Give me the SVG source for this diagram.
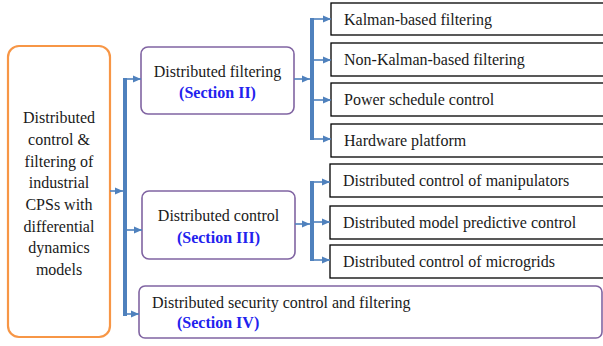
<svg xmlns="http://www.w3.org/2000/svg" width="603" height="346" viewBox="0 0 603 346">
<style>
text{font-family:"Liberation Serif","Times New Roman",serif;font-size:16px;fill:#1a1a1a}
.sec{font-weight:bold;fill:#2222EE}
.orange{fill:#fff;stroke:#F79646;stroke-width:2.2}
.purple{fill:#fff;stroke:#8064A2;stroke-width:1.6}
.leaf{fill:#fff;stroke:#000;stroke-width:1.3}
.bar{fill:#4F81BD}
.arr{stroke:#4F81BD;stroke-width:1.6;fill:none;marker-end:url(#ah)}
</style>
<defs>
<marker id="ah" markerUnits="userSpaceOnUse" markerWidth="9" markerHeight="8" refX="8" refY="4" orient="auto">
<path d="M0,0.5 L8,4 L0,7.5 Z" fill="#4F81BD"/>
</marker>
</defs>
<rect width="603" height="346" fill="#fff"/>
<g id="root">
<rect class="orange" x="8" y="46" width="102" height="291" rx="11"/>
<text text-anchor="middle"><tspan x="59" y="123">Distributed</tspan><tspan x="59" y="145">control &amp;</tspan><tspan x="59" y="167">filtering of</tspan><tspan x="59" y="188">industrial</tspan><tspan x="59" y="210">CPSs with</tspan><tspan x="59" y="232">differential</tspan><tspan x="59" y="253">dynamics</tspan><tspan x="59" y="275">models</tspan></text>
</g>
<g id="filtering">
<rect class="purple" x="141" y="47" width="153" height="67" rx="7"/>
<text x="217.5" y="77" text-anchor="middle">Distributed filtering</text>
<text class="sec" x="217.5" y="98" text-anchor="middle">(Section II)</text>
</g>
<g id="control">
<rect class="purple" x="142" y="191" width="153" height="68" rx="7"/>
<text x="218.5" y="221" text-anchor="middle">Distributed control</text>
<text class="sec" x="218.5" y="243" text-anchor="middle">(Section III)</text>
</g>
<g id="security">
<rect class="purple" x="139" y="286" width="463" height="52" rx="6"/>
<text x="152" y="308">Distributed security control and filtering</text>
<text class="sec" x="177" y="328">(Section IV)</text>
</g>
<g id="kalman"><rect class="leaf" x="331" y="3" width="280" height="32"/><text x="344" y="25">Kalman-based filtering</text></g>
<g id="nonkalman"><rect class="leaf" x="331" y="43" width="280" height="33"/><text x="344" y="65">Non-Kalman-based filtering</text></g>
<g id="power"><rect class="leaf" x="331" y="83" width="280" height="33"/><text x="344" y="105">Power schedule control</text></g>
<g id="hardware"><rect class="leaf" x="331" y="124" width="280" height="33"/><text x="344" y="146">Hardware platform</text></g>
<g id="manipulators"><rect class="leaf" x="330" y="164" width="281" height="33"/><text x="343" y="186">Distributed control of manipulators</text></g>
<g id="mpc"><rect class="leaf" x="330" y="206" width="281" height="33"/><text x="343" y="228">Distributed model predictive control</text></g>
<g id="microgrids"><rect class="leaf" x="330" y="245" width="281" height="33"/><text x="343" y="267">Distributed control of microgrids</text></g>
<g id="connectors">
<rect class="bar" x="123" y="78" width="4" height="238"/>
<path class="arr" d="M110,191 L123,191"/>
<path class="arr" d="M127,79 L141,79"/>
<path class="arr" d="M127,230 L142,230"/>
<path class="arr" d="M127,314 L139,314"/>
<rect class="bar" x="310" y="18" width="4" height="122"/>
<path class="arr" d="M294,79 L310,79"/>
<path class="arr" d="M314,19 L331,19"/>
<path class="arr" d="M314,60 L331,60"/>
<path class="arr" d="M314,100 L331,100"/>
<path class="arr" d="M314,139 L331,139"/>
<rect class="bar" x="310" y="181" width="4" height="80"/>
<path class="arr" d="M295,224 L310,224"/>
<path class="arr" d="M314,182 L330,182"/>
<path class="arr" d="M314,222 L330,222"/>
<path class="arr" d="M314,260 L330,260"/>
</g>
</svg>
